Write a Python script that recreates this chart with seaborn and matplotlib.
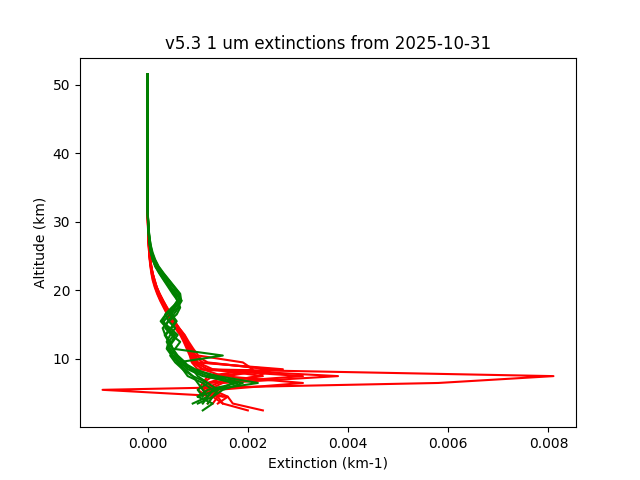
import numpy as np
import pandas as pd
import seaborn as sns
import matplotlib
matplotlib.use("Agg")
import matplotlib.pyplot as plt

title = "v5.3 1 um extinctions from 2025-10-31"
nan = np.nan

# altitude grid (km), 2.5 .. 51.5
alt = np.arange(2.5, 52.0, 1.0)

# extinction in 1e-4 km-1, altitudes 2.5 .. 31.5
red_profiles = [
    [nan, 14, 16, -9, 58, 81, 11, 9.0, 8.6, 8.0, 7.3, 6.7, 5.6, 4.7, 4.0, 3.3, 2.6, 2.0, 1.5, 1.1, 0.8, 0.6, 0.45, 0.3, 0.2, 0.15, 0.1, 0.05, 0.03, 0.01],
    [nan, 13, 14, 12, 15, 38, 12, 9.5, 8.8, 8.2, 7.6, 6.8, 5.8, 4.8, 4.1, 3.4, 2.7, 2.1, 1.6, 1.2, 0.9, 0.65, 0.45, 0.35, 0.25, 0.18, 0.12, 0.08, 0.04, 0.02],
    [nan, nan, 14, 13, 12, 31, 10, 8.8, 8.4, 7.8, 7.2, 6.5, 5.5, 4.6, 3.9, 3.2, 2.5, 1.9, 1.4, 1.0, 0.75, 0.55, 0.4, 0.3, 0.2, 0.14, 0.1, 0.06, 0.03, 0.01],
    [nan, 12, 13, 14, 31, 15, 11, 9.2, 9.0, 8.4, 7.7, 7.0, 6.0, 5.0, 4.3, 3.6, 2.9, 2.2, 1.7, 1.3, 0.95, 0.7, 0.5, 0.38, 0.28, 0.2, 0.14, 0.09, 0.05, 0.02],
    [nan, nan, 15, 12, 11, 13, 27, 9.8, 9.2, 8.6, 7.9, 7.2, 6.2, 5.2, 4.5, 3.7, 3.0, 2.3, 1.8, 1.3, 1.0, 0.7, 0.5, 0.38, 0.27, 0.2, 0.13, 0.08, 0.04, 0.02],
    [nan, 15, 14, 11, 12, 16, 24, 12, 9.6, 8.8, 8.0, 7.3, 6.3, 5.4, 4.7, 3.9, 3.1, 2.4, 1.8, 1.4, 1.0, 0.75, 0.55, 0.4, 0.3, 0.2, 0.14, 0.09, 0.05, 0.02],
    [23, 17, 16, 13, 12, 23, 13, 10, 9.3, 8.4, 7.7, 6.9, 5.9, 5.0, 4.4, 3.7, 3.0, 2.3, 1.7, 1.3, 0.95, 0.7, 0.5, 0.37, 0.27, 0.19, 0.13, 0.08, 0.04, 0.02],
    [20, 15, 13, 11, 14, 22, 25, 11, 9.1, 8.3, 7.6, 6.7, 5.7, 4.8, 4.2, 3.5, 2.8, 2.2, 1.6, 1.2, 0.9, 0.65, 0.47, 0.35, 0.25, 0.18, 0.12, 0.07, 0.04, 0.01],
    [nan, nan, 12, 10, 11, 12, 21, 19, 10.1, 9.1, 8.2, 7.4, 6.3, 5.3, 4.6, 3.8, 3.1, 2.4, 1.8, 1.4, 1.0, 0.72, 0.52, 0.38, 0.28, 0.2, 0.13, 0.08, 0.04, 0.02],
]

green_profiles = [
    [nan, nan, 12, 11, 10, 9, 7, 6.0, 15, 5.0, 4.5, 3.5, 3.0, 4.2, 5.8, 6.5, 6.0, 5.0, 4.1, 3.2, 2.3, 1.5, 1.0, 0.65, 0.45, 0.3, 0.2, 0.12, 0.07, 0.03],
    [nan, 11, 12, 13, 22, 14, 9, 6.0, 5.0, 4.2, 4.8, 5.5, 4.0, 3.2, 4.5, 6.0, 6.8, 5.8, 4.6, 3.6, 2.6, 1.8, 1.2, 0.8, 0.5, 0.34, 0.22, 0.13, 0.07, 0.03],
    [nan, 9, 12, 13, 11, 8, 7, 5.5, 4.5, 5.5, 6.5, 4.8, 3.5, 4.0, 5.2, 6.2, 6.0, 5.3, 4.3, 3.3, 2.4, 1.6, 1.05, 0.7, 0.47, 0.3, 0.2, 0.12, 0.06, 0.02],
    [11, 13, 10, 12, 18, 11, 8, 6.5, 5.0, 4.0, 5.0, 6.0, 4.5, 2.8, 3.8, 5.5, 6.6, 5.6, 4.5, 3.5, 2.5, 1.7, 1.1, 0.75, 0.5, 0.33, 0.21, 0.12, 0.06, 0.03],
    [nan, nan, 11, 10, 12, 10, 9, 7.0, 5.5, 4.5, 3.8, 4.5, 5.5, 4.2, 3.5, 4.8, 6.3, 6.2, 5.1, 4.0, 2.9, 2.0, 1.3, 0.85, 0.55, 0.36, 0.23, 0.14, 0.07, 0.03],
    [nan, 10, 13, 14, 17, 12, 8.5, 7.5, 6.0, 5.0, 4.2, 3.4, 4.6, 5.6, 4.4, 5.0, 6.5, 6.4, 5.3, 4.2, 3.1, 2.1, 1.4, 0.9, 0.6, 0.4, 0.25, 0.15, 0.08, 0.03],
    [nan, nan, 10, 14, 12, 9, 7.5, 6.0, 4.8, 3.8, 4.2, 5.2, 3.8, 2.6, 3.6, 5.0, 5.9, 5.5, 4.6, 3.5, 2.5, 1.6, 1.0, 0.65, 0.42, 0.28, 0.18, 0.1, 0.05, 0.02],
    [nan, 12, 13, 15, 19, 13, 9.5, 7.0, 5.8, 5.0, 4.2, 3.6, 4.8, 5.8, 4.8, 5.4, 6.7, 6.5, 5.4, 4.3, 3.2, 2.2, 1.5, 1.0, 0.65, 0.42, 0.27, 0.16, 0.08, 0.03],
]

# shared values above 32 km (32.5 .. 51.5), essentially zero
upper = [0.01, 0.01, 0.0, 0.0, 0.0, 0.0, 0.0, 0.0, 0.0, 0.0,
         0.0, 0.0, 0.0, 0.0, 0.0, 0.0, 0.0, 0.0, 0.0, 0.0]


def to_frame(profile):
    ext = np.array(profile + upper, dtype=float) * 1e-4
    df = pd.DataFrame({"alt": alt, "ext": ext})
    return df.dropna()


fig, ax = plt.subplots(figsize=(6.4, 4.8), dpi=100)

for p in red_profiles:
    sns.lineplot(data=to_frame(p), x="ext", y="alt", sort=False, estimator=None,
                 color="red", linewidth=1.5, ax=ax, legend=False)

for p in green_profiles:
    sns.lineplot(data=to_frame(p), x="ext", y="alt", sort=False, estimator=None,
                 color="green", linewidth=1.5, ax=ax, legend=False)

ax.set_title(title)
ax.set_xlabel("Extinction (km-1)")
ax.set_ylabel("Altitude (km)")

fig.savefig("out.png", dpi=100)
